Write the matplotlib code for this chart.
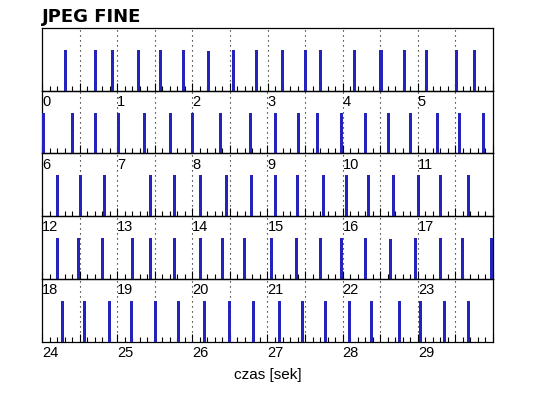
import numpy as np
import matplotlib
matplotlib.use("Agg")
import matplotlib.pyplot as plt
from matplotlib.ticker import MultipleLocator, FuncFormatter

# frame times [s], 6 s per row
times_row1 = [0.31, 0.71, 0.94, 1.28, 1.58, 1.88, 2.22, 2.55, 2.86, 3.20,
              3.51, 3.71, 4.16, 4.51, 4.82, 5.11, 5.52, 5.76]
times_row2 = [6.02, 6.40, 6.71, 7.02, 7.37, 7.71, 8.00, 8.38, 8.78, 9.10,
              9.41, 9.66, 9.98, 10.30, 10.61, 10.90, 11.26, 11.56, 11.87]
times_row3 = [12.20, 12.51, 12.83, 13.45, 13.76, 14.11, 14.45, 14.79, 15.10,
              15.40, 15.74, 16.05, 16.34, 16.68, 17.01, 17.30, 17.67]
times_row4 = [18.20, 18.49, 18.80, 19.20, 19.45, 19.76, 20.11, 20.40, 20.70,
              21.05, 21.38, 21.70, 21.99, 22.30, 22.63, 22.97, 23.30, 23.60, 23.98]
times_row5 = [24.27, 24.56, 24.90, 25.19, 25.51, 25.81, 26.16, 26.50, 26.82,
              27.16, 27.46, 27.77, 28.09, 28.39, 28.75, 29.03, 29.35, 29.68]

# a couple of bars are a bit lower than the rest
short_times = [2.22, 22.63]
short_height = 0.63
normal_height = 0.65

row_starts = [0, 6, 12, 18, 24]
rows = [times_row1, times_row2, times_row3, times_row4, times_row5]

title = "JPEG FINE"
xlabel = "czas [sek]"

plt.rcParams['font.family'] = ['Liberation Sans', 'DejaVu Sans']

fig = plt.figure(figsize=(5.38, 3.98), dpi=100)
left, right = 42 / 538, 493 / 538
top, bottom = 1 - 28 / 398, 1 - 341.7 / 398
h = (top - bottom) / 5

bar_col = '#2424bc'

for i, (t0, tt) in enumerate(zip(row_starts, rows)):
    ax = fig.add_axes([left, top - (i + 1) * h, right - left, h])
    ax.patch.set_visible(False)
    hts = [short_height if t in short_times else normal_height for t in tt]
    ax.bar(tt, hts, width=0.04, color=bar_col, zorder=3)
    for xv in np.arange(t0 + 0.5, t0 + 6, 0.5):
        ax.axvline(xv, color='black', lw=0.8, ls=(0, (1, 3.5)), zorder=1)
    ax.set_xlim(t0, t0 + 6)
    ax.set_ylim(0, 1)
    ax.set_yticks([])
    ax.xaxis.set_major_locator(MultipleLocator(0.5))
    ax.xaxis.set_minor_locator(MultipleLocator(0.1))
    ax.xaxis.set_major_formatter(FuncFormatter(
        lambda v, p, t0=t0: '%d' % round(v) if abs(v - round(v)) < 1e-6 and v < t0 + 5.9 else ''))
    ax.tick_params(axis='x', which='major', direction='in', length=6, width=0.8,
                   pad=3, labelsize=10.5)
    ax.tick_params(axis='x', which='minor', direction='in', length=3.5, width=0.8)
    for lab in ax.get_xticklabels():
        lab.set_horizontalalignment('left')
    for s in ax.spines.values():
        s.set_linewidth(0.9)
    if i == 4:
        ax.set_xlabel(xlabel, fontsize=11, labelpad=6)

fig.text(left, 1 - 22 / 398, title, fontsize=13, fontweight='bold',
         family='DejaVu Sans', va='baseline', ha='left')

fig.savefig('out.png', dpi=100)
